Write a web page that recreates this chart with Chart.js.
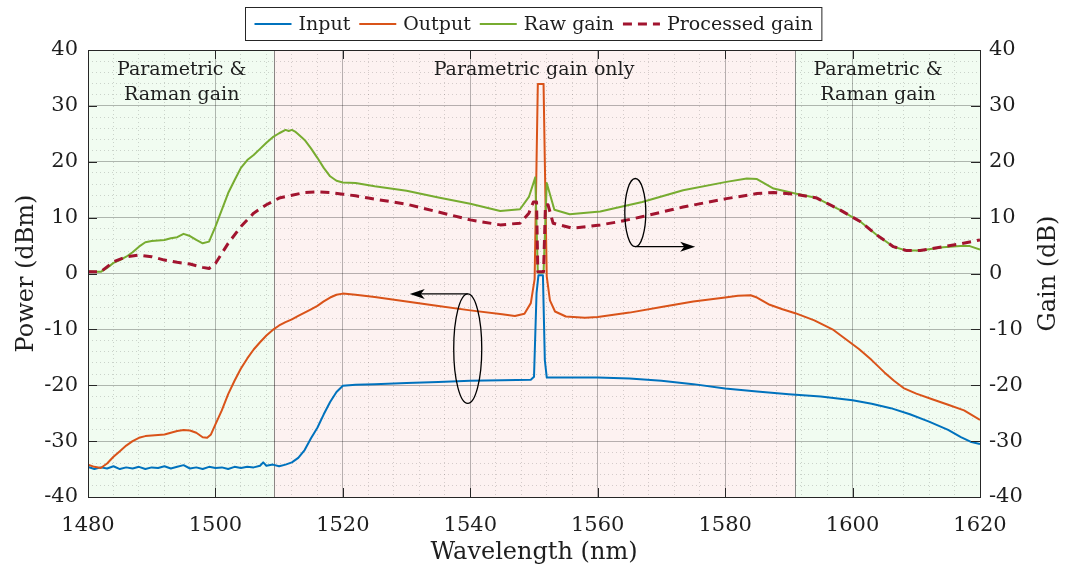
<!DOCTYPE html>
<html>
<head>
<meta charset="utf-8">
<script src="https://cdn.jsdelivr.net/npm/chart.js@4.4.1/dist/chart.umd.min.js"></script>
<style>
  html, body { margin: 0; padding: 0; background: #fff; }
  #marco { width: 1067px; height: 574px; }
</style>
</head>
<body>
<div id="marco"><canvas id="grafico" width="1067" height="574"></canvas></div>
<script>
// Espectros de entrada/salida del amplificador y ganancia (cruda y procesada).
// Eje izquierdo: potencia en dBm; eje derecho: ganancia en dB (misma escala).

var FUENTE = '"DejaVu Serif", "Liberation Serif", serif';
var TEXTO = '#1e1e1e';

// --- Input (dBm) ---
var inputWl = [1480, 1481, 1482, 1483, 1484, 1485, 1486, 1487, 1488, 1489, 1490, 1491, 1492, 1493, 1494, 1495,
  1496, 1497, 1498, 1499, 1500, 1501, 1502, 1503, 1504, 1505, 1506, 1507, 1507.5, 1508, 1509, 1510, 1511,
  1512, 1513, 1514, 1515, 1516, 1517, 1518, 1519, 1520, 1522, 1525, 1530, 1535, 1540, 1545, 1549.5, 1550.0,
  1550.4, 1550.7, 1551.4, 1551.7, 1552.0, 1555, 1560, 1565, 1570, 1575, 1580, 1585, 1590, 1595, 1600, 1603,
  1606, 1609, 1612, 1615, 1617, 1618.5, 1620];
var inputDbm = [-34.6, -35.0, -34.7, -34.9, -34.5, -35.0, -34.7, -34.9, -34.6, -35.0, -34.7, -34.8, -34.5, -34.9, -34.6, -34.3,
  -34.9, -34.7, -35.0, -34.6, -34.8, -34.7, -35.0, -34.6, -34.8, -34.6, -34.7, -34.4, -33.8, -34.4, -34.2, -34.5, -34.2,
  -33.8, -33.0, -31.6, -29.5, -27.6, -25.2, -23.0, -21.2, -20.1, -19.9, -19.8, -19.6, -19.4, -19.2, -19.1, -19.0, -18.5,
  -3.5, -0.3, -0.3, -15.5, -18.6, -18.6, -18.6, -18.8, -19.2, -19.8, -20.6, -21.1, -21.6, -22.0, -22.7, -23.3,
  -24.1, -25.2, -26.5, -28.0, -29.3, -30.1, -30.5];

// --- Output (dBm) ---
var outputWl = [1480, 1481, 1482, 1483, 1484, 1485, 1486, 1487, 1488, 1489, 1490, 1491, 1492, 1493, 1494, 1495, 1496,
  1497, 1498, 1498.7, 1499.3, 1500, 1501, 1502, 1503, 1504, 1505, 1506, 1507, 1508, 1509, 1510, 1511, 1512, 1513,
  1514, 1515, 1516, 1517, 1518, 1519, 1520, 1522, 1525, 1530, 1535, 1540, 1545, 1547, 1548.5, 1549.5, 1550.1,
  1550.4, 1550.6, 1551.5, 1551.7, 1552.0, 1552.5, 1553.3, 1555, 1558, 1560, 1565, 1570, 1575, 1580, 1582, 1584,
  1585, 1587, 1589, 1591, 1594, 1597, 1599, 1601, 1603, 1605, 1606.5, 1608, 1610, 1612.5, 1615, 1617.5, 1620];
var outputDbm = [-34.2, -34.6, -34.8, -34.0, -32.8, -31.8, -30.8, -30.0, -29.4, -29.1, -29.0, -28.9, -28.8, -28.5, -28.2, -28.0, -28.1,
  -28.5, -29.3, -29.4, -28.8, -27.0, -24.5, -21.6, -19.2, -17.0, -15.2, -13.6, -12.3, -11.1, -10.1, -9.3, -8.7, -8.2, -7.6,
  -7.0, -6.4, -5.8, -5.0, -4.3, -3.8, -3.6, -3.8, -4.2, -5.0, -5.8, -6.6, -7.3, -7.6, -7.2, -5.3, -1.0,
  20.0, 33.9, 33.9, 20.0, -0.5, -4.8, -6.8, -7.7, -7.9, -7.8, -7.0, -6.0, -5.0, -4.3, -4.0, -3.9,
  -4.3, -5.6, -6.4, -7.1, -8.4, -10.1, -11.8, -13.5, -15.5, -17.7, -19.2, -20.5, -21.5, -22.5, -23.5, -24.5, -26.2];

// --- Raw gain (dB) ---
var rawWl = [1480, 1481, 1482, 1483, 1484, 1485, 1486, 1487, 1488, 1489, 1490, 1491, 1492, 1493, 1494, 1495, 1496,
  1497, 1498, 1499, 1500, 1501, 1502, 1503, 1504, 1505, 1506, 1507, 1508, 1509, 1510,
  1511, 1511.5, 1512, 1512.5, 1513, 1514, 1515, 1516, 1517, 1518, 1519, 1520, 1522, 1525, 1530, 1535,
  1540, 1544.7, 1547.8, 1549.2, 1550.2, 1550.6, 1551.5, 1552.0, 1553.2, 1555.6, 1560.4, 1563.5, 1567, 1573.4,
  1580.2, 1583.4, 1585, 1587.6, 1591, 1594.4, 1598, 1601.2, 1603.8, 1606.4, 1608.5, 1610.6, 1614.2, 1616.9,
  1618.4, 1620];
var rawGainDb = [0.4, 0.3, 0.3, 1.0, 1.9, 2.4, 3.0, 3.8, 4.8, 5.6, 5.8, 5.9, 6.0, 6.3, 6.5, 7.1, 6.7,
  6.0, 5.4, 5.7, 8.4, 11.4, 14.4, 16.7, 18.9, 20.3, 21.2, 22.3, 23.4, 24.4, 25.1,
  25.7, 25.5, 25.7, 25.4, 24.9, 23.9, 22.4, 20.7, 18.9, 17.4, 16.6, 16.3, 16.2, 15.6, 14.8, 13.6,
  12.5, 11.2, 11.5, 13.7, 17.2, 0.2, 0.2, 16.2, 11.4, 10.6, 11.1, 11.9, 12.8, 14.9,
  16.4, 17.0, 16.9, 15.2, 14.3, 13.5, 11.4, 9.3, 6.9, 4.8, 4.1, 4.1, 4.7, 4.9,
  4.9, 4.3];

// --- Processed gain (dB) ---
var procWl = [1480, 1482, 1484, 1486, 1488, 1490, 1492, 1494, 1496, 1498, 1499, 1500, 1501, 1502, 1504, 1506,
  1508, 1510, 1512, 1514, 1516, 1518, 1520, 1522, 1524, 1530, 1535, 1540, 1544.7, 1547.8, 1549.2, 1549.9,
  1550.4, 1550.6, 1551.5, 1551.8, 1552.2, 1553, 1556, 1560.4, 1563.5, 1567.1, 1573.4, 1580.2, 1585, 1587.6,
  1591, 1594.4, 1598, 1601.2, 1603.8, 1606.4, 1608.5, 1610.6, 1614.2, 1616.9, 1620];
var procGainDb = [0.3, 0.3, 2.1, 3.0, 3.3, 3.0, 2.4, 2.0, 1.7, 1.1, 0.9, 1.8, 3.6, 5.4, 8.4, 10.8,
  12.3, 13.5, 14.0, 14.5, 14.6, 14.5, 14.2, 13.9, 13.5, 12.4, 11.0, 9.6, 8.7, 9.0, 10.8, 12.8,
  12.8, 0.3, 0.3, 12.3, 12.3, 9.0, 8.1, 8.7, 9.3, 10.2, 11.9, 13.4, 14.3, 14.5,
  14.2, 13.5, 11.4, 9.3, 6.9, 4.8, 4.1, 4.1, 4.8, 5.3, 6.0];

var xTicks = [1480, 1500, 1520, 1540, 1560, 1580, 1600, 1620];
var yTicks = [-40, -30, -20, -10, 0, 10, 20, 30, 40];

// zonas de ganancia (nm)
var zonas = [
  { desde: 1480, hasta: 1509.2, color: 'rgb(241,252,241)' },
  { desde: 1509.2, hasta: 1591, color: 'rgb(253,242,241)' },
  { desde: 1591, hasta: 1620, color: 'rgb(241,252,241)' },
];
var limitesZona = [1509.2, 1591];
var rotulosZona = [
  { x: 1494.7, y: 36.4, lineas: ['Parametric &', 'Raman gain'] },
  { x: 1550, y: 36.4, lineas: ['Parametric gain only'] },
  { x: 1604, y: 36.4, lineas: ['Parametric &', 'Raman gain'] },
];

// elipses que marcan a qué eje corresponde cada grupo de curvas
var elipses = [
  { cx: 1539.6, cy: -13.45, rx: 2.2, ry: 9.8, haciaX: 1530.5, desdeY: -3.65 },
  { cx: 1565.9, cy: 10.9, rx: 1.65, ry: 6.1, haciaX: 1575.3, desdeY: 4.8 },
];

function puntos(xs, ys) {
  return xs.map(function (x, i) { return { x: x, y: ys[i] }; });
}

function flecha(ctx, x0, y0, x1, y1) {
  var ang = Math.atan2(y1 - y0, x1 - x0);
  ctx.beginPath();
  ctx.moveTo(x0, y0);
  ctx.lineTo(x1 - 10 * Math.cos(ang), y1 - 10 * Math.sin(ang));
  ctx.stroke();
  ctx.save();
  ctx.translate(x1, y1);
  ctx.rotate(ang);
  ctx.beginPath();
  ctx.moveTo(0, 0);
  ctx.lineTo(-15, -5);
  ctx.lineTo(-11, 0);
  ctx.lineTo(-15, 5);
  ctx.closePath();
  ctx.fill();
  ctx.restore();
}

var decoracion = {
  id: 'decoracion',
  beforeDraw: function (chart) {
    var ctx = chart.ctx, a = chart.chartArea, sx = chart.scales.x;
    ctx.save();
    ctx.fillStyle = '#fff';
    ctx.fillRect(0, 0, chart.width, chart.height);
    zonas.forEach(function (z) {
      var x0 = sx.getPixelForValue(z.desde), x1 = sx.getPixelForValue(z.hasta);
      ctx.fillStyle = z.color;
      ctx.fillRect(x0, a.top, x1 - x0, a.bottom - a.top);
    });
    ctx.restore();
  },
  beforeDatasetsDraw: function (chart) {
    var ctx = chart.ctx, a = chart.chartArea, sx = chart.scales.x, sy = chart.scales.y;
    ctx.save();
    ctx.strokeStyle = 'rgba(0,0,0,0.45)';
    ctx.lineWidth = 1;
    limitesZona.forEach(function (v) {
      var x = Math.round(sx.getPixelForValue(v)) + 0.5;
      ctx.beginPath(); ctx.moveTo(x, a.top); ctx.lineTo(x, a.bottom); ctx.stroke();
    });
    // rótulos de zona
    ctx.fillStyle = TEXTO;
    ctx.font = '19px ' + FUENTE;
    ctx.textAlign = 'center';
    ctx.textBaseline = 'middle';
    rotulosZona.forEach(function (r) {
      var x = sx.getPixelForValue(r.x), y = sy.getPixelForValue(r.y);
      r.lineas.forEach(function (t, i) { ctx.fillText(t, x, y + i * 25); });
    });
    ctx.restore();
  },
  afterDraw: function (chart) {
    var ctx = chart.ctx, a = chart.chartArea, sx = chart.scales.x, sy = chart.scales.y;
    ctx.save();
    // marcas hacia dentro
    ctx.strokeStyle = '#262626';
    ctx.lineWidth = 1;
    var L = 9;
    xTicks.forEach(function (v) {
      var x = Math.round(sx.getPixelForValue(v)) + 0.5;
      ctx.beginPath();
      ctx.moveTo(x, a.bottom); ctx.lineTo(x, a.bottom - L);
      ctx.moveTo(x, a.top); ctx.lineTo(x, a.top + L);
      ctx.stroke();
    });
    yTicks.forEach(function (v) {
      var y = Math.round(sy.getPixelForValue(v)) + 0.5;
      ctx.beginPath();
      ctx.moveTo(a.left, y); ctx.lineTo(a.left + L, y);
      ctx.moveTo(a.right, y); ctx.lineTo(a.right - L, y);
      ctx.stroke();
    });
    // caja de ejes
    ctx.strokeRect(Math.round(a.left) + 0.5, Math.round(a.top) + 0.5,
      Math.round(a.right - a.left), Math.round(a.bottom - a.top));

    // elipses y flechas
    ctx.strokeStyle = '#000';
    ctx.fillStyle = '#000';
    ctx.lineWidth = 1.3;
    elipses.forEach(function (e) {
      var cx = sx.getPixelForValue(e.cx), cy = sy.getPixelForValue(e.cy);
      var rx = Math.abs(sx.getPixelForValue(e.cx + e.rx) - cx);
      var ry = Math.abs(sy.getPixelForValue(e.cy + e.ry) - cy);
      ctx.beginPath();
      ctx.ellipse(cx, cy, rx, ry, 0, 0, Math.PI * 2);
      ctx.stroke();
      var y = sy.getPixelForValue(e.desdeY);
      flecha(ctx, cx, y, sx.getPixelForValue(e.haciaX), y);
    });

    // títulos de ejes
    ctx.fillStyle = TEXTO;
    ctx.font = '24px ' + FUENTE;
    ctx.textAlign = 'center';
    ctx.textBaseline = 'middle';
    var cyMid = (a.top + a.bottom) / 2;
    ctx.fillText('Wavelength (nm)', (a.left + a.right) / 2, 553);
    ctx.save();
    ctx.translate(27, cyMid);
    ctx.rotate(-Math.PI / 2);
    ctx.fillText('Power (dBm)', 0, 0);
    ctx.restore();
    ctx.save();
    ctx.translate(1049, cyMid);
    ctx.rotate(-Math.PI / 2);
    ctx.fillText('Gain (dB)', 0, 0);
    ctx.restore();

    // leyenda en caja
    ctx.font = '19px ' + FUENTE;
    var ds = chart.data.datasets;
    var pad = 9, largo = 37, sep = 7, entre = 9;
    var total = pad * 2 + entre * (ds.length - 1);
    ds.forEach(function (d) { total += largo + sep + ctx.measureText(d.label).width; });
    var x = Math.round(chart.width / 2 - total / 2) + 0.5;
    var top = 7.5, alto = 33, yc = top + alto / 2;
    ctx.fillStyle = '#fff';
    ctx.fillRect(x, top, total, alto);
    ctx.strokeStyle = '#262626';
    ctx.lineWidth = 1;
    ctx.strokeRect(x, top, total, alto);
    var cx = x + pad;
    ds.forEach(function (d) {
      ctx.strokeStyle = d.borderColor;
      ctx.lineWidth = d.borderWidth;
      ctx.setLineDash(d.borderDash || []);
      ctx.beginPath(); ctx.moveTo(cx, yc); ctx.lineTo(cx + largo, yc); ctx.stroke();
      ctx.setLineDash([]);
      ctx.fillStyle = TEXTO;
      ctx.textAlign = 'left';
      ctx.fillText(d.label, cx + largo + sep, yc + 1);
      cx += largo + sep + ctx.measureText(d.label).width + entre;
    });
    ctx.restore();
  },
};

function gridMenor(paso) {
  return function (c) {
    if (!c.tick) return 'rgba(0,0,0,0)';
    var r = Math.abs(c.tick.value % paso);
    return (r < 1e-6 || paso - r < 1e-6) ? 'rgba(0,0,0,0)' : 'rgba(0,0,0,0.16)';
  };
}

var fuenteTicks = { family: FUENTE, size: 21 };

new Chart(document.getElementById('grafico').getContext('2d'), {
  type: 'line',
  data: {
    datasets: [
      { label: 'Input', data: puntos(inputWl, inputDbm), yAxisID: 'y', borderColor: '#0072BD', borderWidth: 2, order: 4 },
      { label: 'Output', data: puntos(outputWl, outputDbm), yAxisID: 'y', borderColor: '#D95319', borderWidth: 2, order: 3 },
      { label: 'Raw gain', data: puntos(rawWl, rawGainDb), yAxisID: 'y1', borderColor: '#77AC30', borderWidth: 2, order: 2 },
      { label: 'Processed gain', data: puntos(procWl, procGainDb), yAxisID: 'y1', borderColor: '#A2142F', borderWidth: 3, borderDash: [9, 6], order: 1 },
    ],
  },
  options: {
    responsive: false,
    animation: false,
    layout: { padding: { top: 50, left: 0, right: 0, bottom: 0 } },
    elements: { point: { radius: 0 }, line: { tension: 0, borderCapStyle: 'butt', borderJoinStyle: 'round' } },
    plugins: { legend: { display: false }, tooltip: { enabled: false } },
    scales: {
      x: {
        type: 'linear', min: 1480, max: 1620, position: 'bottom',
        ticks: { stepSize: 20, color: TEXTO, font: fuenteTicks, padding: 16, maxRotation: 0, autoSkip: false,
          callback: function (v) { return String(v); } },
        grid: { color: 'rgba(0,0,0,0.28)', drawTicks: false },
        border: { display: false },
        afterFit: function (s) { s.height = 77; },
      },
      xMenor: {
        type: 'linear', min: 1480, max: 1620, position: 'bottom',
        ticks: { stepSize: 4, display: false, autoSkip: false },
        grid: { color: gridMenor(20), drawTicks: false },
        border: { display: false, dash: [1, 3] },
        afterFit: function (s) { s.height = 0; },
      },
      y: {
        min: -40, max: 40, position: 'left',
        ticks: { stepSize: 10, color: TEXTO, font: fuenteTicks, padding: 10,
          callback: function (v) { return String(v); } },
        grid: { color: 'rgba(0,0,0,0.28)', drawTicks: false },
        border: { display: false },
        afterFit: function (s) { s.width = 88; },
      },
      yMenor: {
        min: -40, max: 40, position: 'left',
        ticks: { stepSize: 2, display: false },
        grid: { color: gridMenor(10), drawTicks: false },
        border: { display: false, dash: [1, 3] },
        afterFit: function (s) { s.width = 0; },
      },
      y1: {
        min: -40, max: 40, position: 'right',
        ticks: { stepSize: 10, color: TEXTO, font: fuenteTicks, padding: 9,
          callback: function (v) { return String(v); } },
        grid: { drawOnChartArea: false, drawTicks: false },
        border: { display: false },
        afterFit: function (s) { s.width = 87; },
      },
    },
  },
  plugins: [decoracion],
});
</script>
</body>
</html>
